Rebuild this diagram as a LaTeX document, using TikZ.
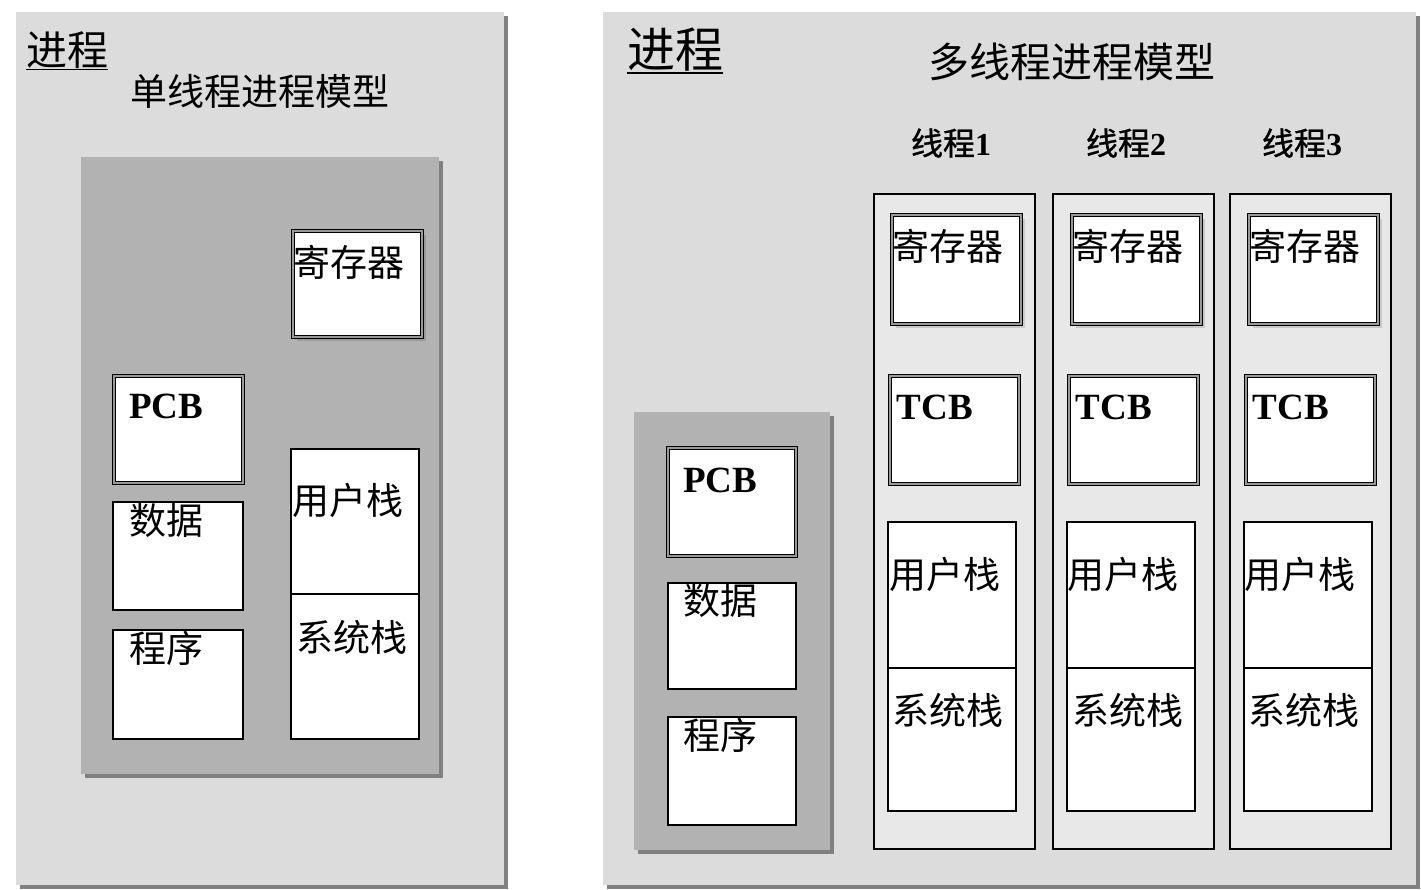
\documentclass[tikz,border=0pt]{standalone}
\usepackage{fontspec}
\setmainfont{Liberation Serif}
\newfontfamily\cjk{Noto Sans CJK SC}
\newfontfamily\cjkb{Noto Sans CJK SC}[FakeBold=1]
\usetikzlibrary{shadows}
\definecolor{panelbg}{HTML}{DCDCDC}
\definecolor{innerbg}{HTML}{B2B2B2}
\definecolor{colbg}{HTML}{E8E8E8}
\definecolor{shadowc}{HTML}{808080}
\definecolor{midgray}{HTML}{999999}
\begin{document}
\begin{tikzpicture}[x=1pt,y=-1pt,
  panel/.style={fill=panelbg, inner sep=0, outer sep=0,
    drop shadow={shadow xshift=4pt, shadow yshift=-4pt, fill=shadowc, opacity=1}},
  inner/.style={fill=innerbg, inner sep=0, outer sep=0,
    drop shadow={shadow xshift=4pt, shadow yshift=-4pt, fill=shadowc, opacity=1}},
  colbox/.style={fill=colbg, draw=black, line width=2pt, inner sep=0, outer sep=0},
  dbox/.style={fill=white, draw=black, line width=1pt, double=midgray, double distance=2pt, inner sep=0, outer sep=0},
  regbox/.style={dbox, drop shadow={shadow xshift=4pt, shadow yshift=-4pt, fill=black, opacity=0.13}},
  sbox/.style={fill=white, draw=black, line width=2pt, inner sep=0, outer sep=0},
  txt/.style={inner sep=0, font=\cjk\fontsize{37}{37}\selectfont},
  lat/.style={inner sep=0, font=\bfseries\fontsize{37}{37}\selectfont},
  thr/.style={inner sep=0, font=\fontsize{32}{32}\selectfont},
  uline/.style={line width=1.5pt}]
\useasboundingbox (0,0) rectangle (1421,890);

% ---------- left panel ----------
\node[panel, minimum width=488pt, minimum height=873pt] (pl) at (260,448.5) {};
\node[inner sep=0, font=\cjk\fontsize{41}{41}\selectfont] (jl) at (67,50) {进程};
\draw[uline] ([yshift=-1pt]jl.south west) -- ([yshift=-1pt]jl.south east);
\node[txt] (tl) at (260,91) {单线程进程模型};
\node[inner, minimum width=358pt, minimum height=617pt] (il) at (260,465.5) {};
\node[regbox, minimum width=129pt, minimum height=106pt] (regl) at (357.5,284) {};
\node[txt] at (349,262) {寄存器};
\node[dbox, minimum width=129pt, minimum height=107pt] (pcbl) at (178.5,429.5) {};
\node[lat] at (166,406) {PCB};
\node[sbox, minimum width=130pt, minimum height=108pt] (datal) at (178,556) {};
\node[txt] at (166,520) {数据};
\node[sbox, minimum width=130pt, minimum height=109pt] (progl) at (178,684.5) {};
\node[txt] at (166,648) {程序};
\node[sbox, minimum width=128pt, minimum height=145pt] (ustl) at (355,521.5) {};
\node[sbox, minimum width=128pt, minimum height=145pt] (sstl) at (355,666.5) {};
\node[txt] at (348,500) {用户栈};
\node[txt] at (352,637) {系统栈};

% ---------- right panel ----------
\node[panel, minimum width=813pt, minimum height=873pt] (pr) at (1009.5,448.5) {};
\node[inner sep=0, font=\cjk\fontsize{48}{48}\selectfont] (jr) at (675,50) {进程};
\draw[uline] ([yshift=-1pt]jr.south west) -- ([yshift=-1pt]jr.south east);
\node[inner sep=0, font=\cjk\fontsize{41}{41}\selectfont] (tr) at (1072,62) {多线程进程模型};
\node[inner, minimum width=196pt, minimum height=438pt] (ir) at (732,631) {};
\node[dbox, minimum width=128pt, minimum height=108pt] (pcbr) at (732,502) {};
\node[lat] at (720,480) {PCB};
\node[sbox, minimum width=128pt, minimum height=106pt] (datar) at (732,636) {};
\node[txt] at (720,600) {数据};
\node[sbox, minimum width=128pt, minimum height=108pt] (progr) at (732,771) {};
\node[txt] at (720,735) {程序};

\foreach \i/\cx/\rx/\tx/\sx/\thx/\rtx/\ttx/\utx/\stx in
  {1/954.5/956.5/954.5/952/951/948/935/945/948,
   2/1133.5/1136.5/1133.5/1131/1126/1128/1114/1123/1128,
   3/1310/1313/1310/1307.5/1302/1305/1291/1300/1304}{
  \node[colbox, minimum width=161pt, minimum height=655pt] (col\i) at (\cx,521.5) {};
  \node[thr] (th\i) at (\thx,143) {{\cjkb 线程}\textbf{\i}};
  \node[regbox, minimum width=129pt, minimum height=109pt] (reg\i) at (\rx,269.5) {};
  \node[txt] at (\rtx,246) {寄存器};
  \node[dbox, minimum width=129pt, minimum height=108pt] (tcb\i) at (\tx,430) {};
  \node[lat] at (\ttx,407) {TCB};
  \node[sbox, minimum width=128pt, minimum height=146pt] (ust\i) at (\sx,595) {};
  \node[sbox, minimum width=128pt, minimum height=143pt] (sst\i) at (\sx,739.5) {};
  \node[txt] at (\utx,574) {用户栈};
  \node[txt] at (\stx,710) {系统栈};
}
\end{tikzpicture}
\end{document}
